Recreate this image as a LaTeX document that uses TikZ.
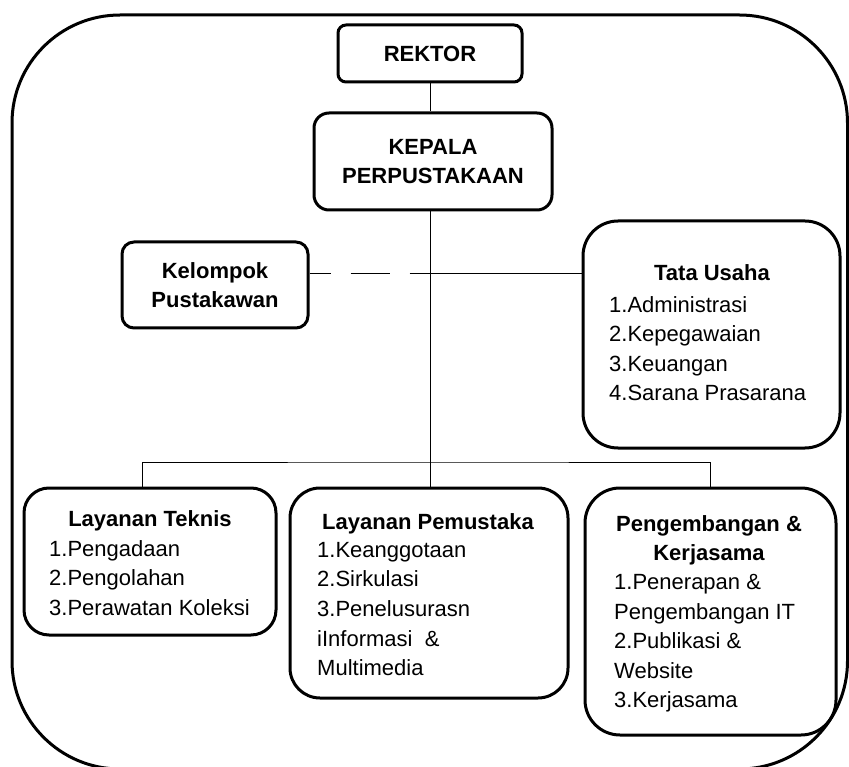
\documentclass[tikz,border=0pt]{standalone}
\usepackage{fontspec}
\setmainfont{Liberation Sans}
\newcommand{\orgfont}{\fontsize{22}{29.6}\selectfont}
\tikzset{
  orgbox/.style={draw, line width=3pt, rounded corners=#1, inner sep=0pt, align=center, font=\orgfont\bfseries},
  orgbox/.default=10pt,
  orgtitle/.style={inner sep=0pt, align=center, font=\orgfont\bfseries},
  orglist/.style={inner sep=0pt, align=left, anchor=north west, font=\orgfont},
  orgline/.style={line width=1pt},
}
\begin{document}
\begin{tikzpicture}[x=1pt,y=1pt,yscale=-1,xscale=1]
\useasboundingbox (0,0) rectangle (849,767);

%Outer frame
\draw [line width=3pt, rounded corners=108pt] (12,15) rectangle (847.5,769);

%Boxes
\node [orgbox=8pt, minimum width=184pt, minimum height=57pt] (rektor) at (430,53.5) {REKTOR};
\node [orgbox=15pt, minimum width=238pt, minimum height=97pt] (kepala) at (433,161.5) {KEPALA\\PERPUSTAKAAN};
\node [orgbox=12pt, minimum width=186pt, minimum height=86pt] (kelompok) at (215,285) {Kelompok\\Pustakawan};
\node [orgbox=35pt, minimum width=257pt, minimum height=227pt] (tatausaha) at (711.5,334.5) {};
\node [orgbox=25pt, minimum width=252pt, minimum height=147pt] (teknis) at (150,561.5) {};
\node [orgbox=30pt, minimum width=278pt, minimum height=210pt] (pemustaka) at (429,593) {};
\node [orgbox=35pt, minimum width=251pt, minimum height=247pt] (kerjasama) at (710.5,611.5) {};

% Text Node
\node [orgtitle, anchor=base] (tatausahaT) at (712,281) {Tata Usaha};
\node [orglist] (tatausahaL) at (609,296) {1.Administrasi\\2.Kepegawaian\\3.Keuangan\\4.Sarana Prasarana};
% Text Node
\node [orgtitle, anchor=base] (teknisT) at (150,526) {Layanan Teknis};
\node [orglist] (teknisL) at (49,540) {1.Pengadaan\\2.Pengolahan\\3.Perawatan Koleksi};
% Text Node
\node [orgtitle, anchor=base] (pemustakaT) at (428,529) {Layanan Pemustaka};
\node [orglist] (pemustakaL) at (317,542) {1.Keanggotaan\\2.Sirkulasi\\3.Penelusurasn\\iInformasi\ \ \&\\Multimedia};
% Text Node
\node [orgtitle, anchor=north] (kerjasamaT) at (709,515) {Pengembangan \&\\Kerjasama};
\node [orglist] (kerjasamaL) at (614,574) {1.Penerapan \&\\Pengembangan IT\\2.Publikasi \&\\Website\\3.Kerjasama};

%Straight Lines
\coordinate (kpjoin) at (430,274);
\coordinate (hub) at (430,462);
\draw [orgline] (rektor.south) -- (rektor.south |- kepala.north);
\draw [orgline] (rektor.south |- kepala.south) -- (hub);
\draw [orgline, dash pattern=on 39pt off 20pt, dash phase=18pt] (kpjoin -| kelompok.east) -- (kpjoin);
\draw [orgline] (kpjoin) -- (kpjoin -| tatausaha.west);
\draw [orgline] ([xshift=-8pt]teknis.north) |- (hub) -| (kerjasama.north);
\draw [orgline] (hub) -- (hub |- pemustaka.north);

\end{tikzpicture}
\end{document}
